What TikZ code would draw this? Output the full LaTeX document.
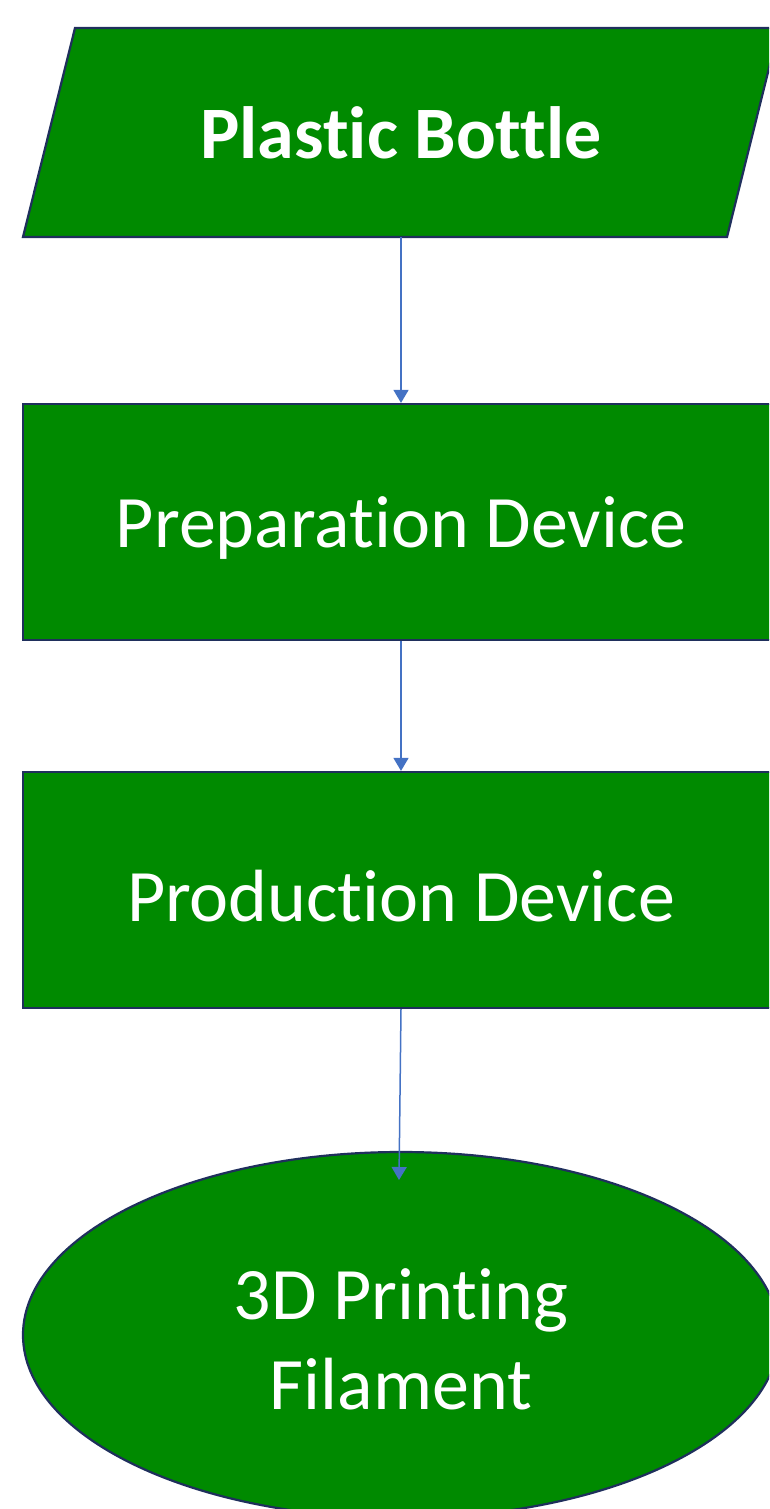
\documentclass[tikz,border=0pt]{standalone}
\usepackage{fontspec}
\setmainfont{Carlito}[Ligatures=NoCommon]
\usetikzlibrary{arrows.meta,shapes.geometric}
\definecolor{boxgreen}{HTML}{008A00}
\definecolor{boxline}{HTML}{1F2F5C}
\definecolor{arrowblue}{HTML}{4472C4}
\newcommand{\lowertext}[2]{\raisebox{-#1}[\height][\depth]{#2}}
\tikzset{
  shapebox/.style={fill=boxgreen,draw=boxline,line width=2.2pt},
  txt/.style={text=white,font=\fontsize{74}{90}\selectfont,align=center},
  rectbox/.style={shapebox,rectangle,minimum width=756pt,minimum height=236pt,inner sep=0pt,txt},
  ovalbox/.style={shapebox,ellipse,minimum width=756pt,minimum height=366pt,inner sep=0pt,txt},
  conn/.style={draw=arrowblue,line width=1.5pt,-{Triangle[width=15pt,length=13pt]}}
}
\begin{document}
\begin{tikzpicture}[x=1pt,y=1pt]
\useasboundingbox (0,0) rectangle (769,-1509);
\clip (0,0) rectangle (769,-1509);
% parallelogram
\draw[shapebox] (23,-237) -- (75,-28) -- (779,-28) -- (727,-237) -- cycle;
\node[txt,font=\fontsize{74}{90}\selectfont\bfseries] (bottle) at (401,-132.5) {Plastic Bottle};
\coordinate (bottleS) at (401,-237);
\node[rectbox] (prep) at (401,-522) {\lowertext{6pt}{Preparation Device}};
\node[rectbox] (prod) at (401,-890) {\lowertext{6pt}{Production Device}};
\node[ovalbox] (fil) at (401,-1335) {\lowertext{4pt}{3D Printing}\\\lowertext{4pt}{Filament}};
\coordinate (filIn) at (399,-1180);
\draw[conn] (bottleS) -- (prep.north);
\draw[conn] (prep.south) -- (prod.north);
\draw[conn] (prod.south) -- (filIn);
\end{tikzpicture}
\end{document}
